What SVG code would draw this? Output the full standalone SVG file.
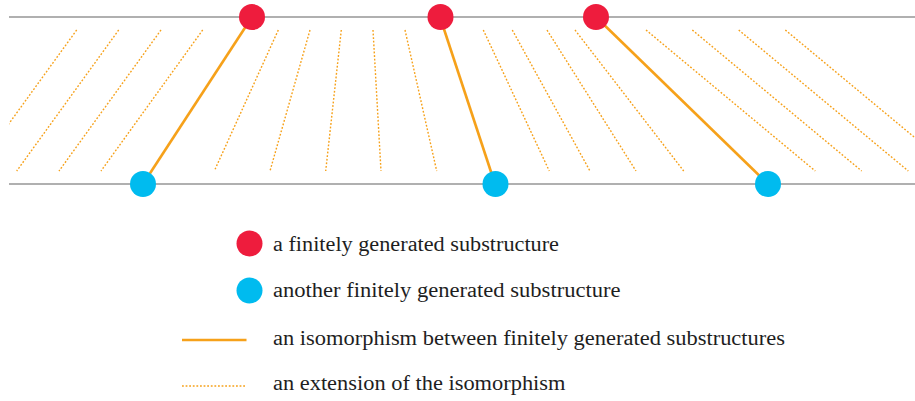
<svg xmlns="http://www.w3.org/2000/svg" width="915" height="401" viewBox="0 0 915 401">
<defs>
<style>
.axis{stroke:#969696;stroke-width:1.3;fill:none}
.iso{stroke:#F6A11A;stroke-width:2.6;fill:none;stroke-linecap:butt}
.ext{stroke:#F6A11A;stroke-width:1.4;fill:none;stroke-dasharray:1.8 1.8}
.red{fill:#EE1C3D}
.blue{fill:#00BBEF}
</style>
<clipPath id="band"><rect x="9" y="0" width="906" height="401"/></clipPath>
</defs>
<rect width="915" height="401" fill="#ffffff"/>
<g id="axes">
<line class="axis" x1="9" y1="17" x2="915" y2="17"/>
<line class="axis" x1="9" y1="184" x2="915" y2="184"/>
</g>
<g id="extensions" clip-path="url(#band)">
<line class="ext" x1="76.7" y1="30" x2="-25.3" y2="171"/>
<line class="ext" x1="118.7" y1="30" x2="16.7" y2="171"/>
<line class="ext" x1="161" y1="30" x2="59" y2="171"/>
<line class="ext" x1="202.7" y1="30" x2="101" y2="171"/>
<line class="ext" x1="278.3" y1="30" x2="214.3" y2="171"/>
<line class="ext" x1="310" y1="30" x2="270" y2="171"/>
<line class="ext" x1="341.3" y1="30" x2="325.7" y2="171"/>
<line class="ext" x1="373" y1="30" x2="381" y2="171"/>
<line class="ext" x1="405" y1="30" x2="436.7" y2="171"/>
<line class="ext" x1="483.3" y1="30" x2="549.3" y2="171"/>
<line class="ext" x1="512.3" y1="30" x2="590" y2="171"/>
<line class="ext" x1="547" y1="30" x2="636" y2="171"/>
<line class="ext" x1="575" y1="30" x2="683.7" y2="171"/>
<line class="ext" x1="646" y1="30" x2="815.3" y2="171"/>
<line class="ext" x1="692.3" y1="30" x2="861.7" y2="171"/>
<line class="ext" x1="738.7" y1="30" x2="908.3" y2="171"/>
<line class="ext" x1="785.3" y1="30" x2="955" y2="171"/>
</g>
<g id="connectors">
<line class="iso" x1="252" y1="17" x2="143" y2="184"/>
<line class="iso" x1="440" y1="17" x2="495" y2="184"/>
<line class="iso" x1="596" y1="17" x2="768" y2="184"/>
</g>
<g id="node-a1"><circle class="red" cx="252" cy="17" r="13"/></g>
<g id="node-a2"><circle class="red" cx="440.5" cy="17" r="13"/></g>
<g id="node-a3"><circle class="red" cx="596" cy="17" r="13"/></g>
<g id="node-b1"><circle class="blue" cx="143" cy="184" r="13"/></g>
<g id="node-b2"><circle class="blue" cx="495.5" cy="184" r="13"/></g>
<g id="node-b3"><circle class="blue" cx="768" cy="184" r="13"/></g>
<g id="legend" font-family="'Liberation Serif', 'DejaVu Serif', serif" font-size="20" fill="#1e1e1e">
<circle class="red" cx="249.5" cy="243.5" r="13"/>
<text x="273" y="251" textLength="286" lengthAdjust="spacingAndGlyphs">a finitely generated substructure</text>
<circle class="blue" cx="249.5" cy="290.5" r="13"/>
<text x="273" y="297" textLength="347.5" lengthAdjust="spacingAndGlyphs">another finitely generated substructure</text>
<line class="iso" x1="182" y1="340" x2="246.5" y2="340"/>
<text x="273" y="345" textLength="512" lengthAdjust="spacingAndGlyphs">an isomorphism between finitely generated substructures</text>
<line class="ext" x1="182" y1="386" x2="246.5" y2="386"/>
<text x="273" y="390" textLength="292.5" lengthAdjust="spacingAndGlyphs">an extension of the isomorphism</text>
</g>
</svg>
